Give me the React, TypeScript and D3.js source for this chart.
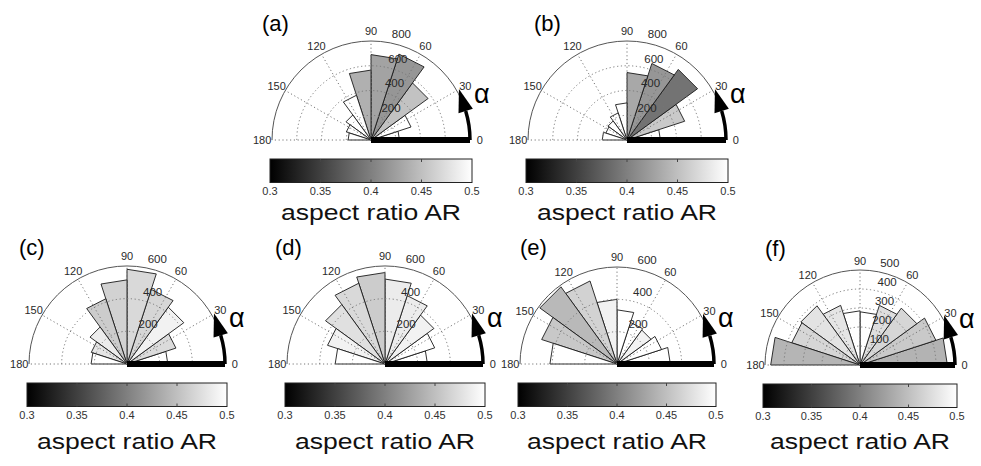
import React from 'react';
import * as d3 from 'd3';

// ---- data ----
const binStarts = [0, 18, 36, 54, 72, 90, 108, 126, 144, 162];
const binWidth = 18;
const panelLabels = ['(a)', '(b)', '(c)', '(d)', '(e)', '(f)'];

const countsA = [230, 340, 570, 730, 690, 565, 380, 250, 210, 185];
const countsB = [270, 490, 705, 650, 545, 300, 230, 190, 180, 200];
const countsC = [250, 315, 430, 480, 580, 515, 420, 280, 230, 220];
const countsD = [260, 320, 370, 440, 520, 560, 520, 450, 370, 305];
const countsE = [330, 290, 260, 270, 335, 400, 540, 590, 490, 415];
const countsF = [460, 420, 370, 330, 280, 285, 330, 385, 378, 470];

const arA = [0.5, 0.5, 0.452, 0.418, 0.428, 0.438, 0.5, 0.5, 0.5, 0.5];
const arB = [0.5, 0.458, 0.39, 0.418, 0.432, 0.5, 0.5, 0.5, 0.5, 0.5];
const arC = [0.5, 0.472, 0.49, 0.468, 0.47, 0.465, 0.46, 0.485, 0.48, 0.5];
const arD = [0.5, 0.5, 0.49, 0.485, 0.485, 0.46, 0.47, 0.476, 0.49, 0.5];
const arE = [0.5, 0.5, 0.49, 0.5, 0.5, 0.49, 0.465, 0.445, 0.457, 0.5];
const arF = [0.44, 0.458, 0.468, 0.474, 0.5, 0.5, 0.48, 0.478, 0.468, 0.442];

const ringTicksAB = [200, 400, 600, 800];
const ringTicksCDE = [200, 400, 600];
const ringTicksF = [100, 200, 300, 400, 500];
const angleTicks = [0, 30, 60, 90, 120, 150, 180];
const colorbarTicks = [0.3, 0.35, 0.4, 0.45, 0.5];
const colorbarTickLabels = ['0.3', '0.35', '0.4', '0.45', '0.5'];
const colorbarTitle = 'aspect ratio AR';
const arrowLabel = 'α';

const panelCounts = [countsA, countsB, countsC, countsD, countsE, countsF];
const panelAR = [arA, arB, arC, arD, arE, arF];
const panelRings = [ringTicksAB, ringTicksAB, ringTicksCDE, ringTicksCDE, ringTicksCDE, ringTicksF];

// ---- layout ----
const layouts = [
  { cx: 371, cy: 140, R: 99, labelDx: -109, titleY: 220, clipRight: 981 },
  { cx: 627, cy: 140, R: 99, labelDx: -93, titleY: 220, clipRight: 981 },
  { cx: 127, cy: 364, R: 98, labelDx: -108, titleY: 449, clipRight: 981 },
  { cx: 385, cy: 364, R: 98, labelDx: -110, titleY: 449, clipRight: 497 },
  { cx: 617, cy: 364, R: 97, labelDx: -97, titleY: 449, clipRight: 981 },
  { cx: 860, cy: 365, R: 95, labelDx: -95, titleY: 449, clipRight: 981 },
];

const FONT = '"Liberation Sans", Arial, sans-serif';
const grayScale = d3.scaleLinear<string>().domain([0.3, 0.5]).range(['#000000', '#ffffff']).clamp(true);
const rad = (deg: number) => (deg * Math.PI) / 180;

function Panel({ idx }: { idx: number }) {
  const L = layouts[idx];
  const counts = panelCounts[idx];
  const ars = panelAR[idx];
  const rings = panelRings[idx];
  const maxR = rings[rings.length - 1];
  const rScale = d3.scaleLinear().domain([0, maxR]).range([0, L.R]);
  const pt = (deg: number, r: number): [number, number] => [L.cx + r * Math.cos(rad(deg)), L.cy - r * Math.sin(rad(deg))];

  const lineGen = d3.line();
  const wedges = binStarts.map((s, i) => {
    const r = rScale(counts[i]);
    const d = lineGen([[L.cx, L.cy], pt(s, r), pt(s + binWidth, r)]) + 'Z';
    return <path key={i} d={d} fill={grayScale(ars[i])} stroke="#1a1a1a" strokeWidth={0.9} />;
  });

  const ringPath = (r: number) => {
    const p = d3.path();
    p.arc(L.cx, L.cy, r, Math.PI, 2 * Math.PI, false);
    return p.toString();
  };

  const cbLeft = L.cx - L.R - 2;
  const cbRight = L.cx + L.R + 2;
  const cbTop = L.cy + 19;
  const cbBot = L.cy + 42.5;
  const cbScale = d3.scaleLinear().domain([0.3, 0.5]).range([cbLeft, cbRight]);
  const gradId = `grad${idx}`;
  const clipId = `clip${idx}`;

  // arrow
  const arcEnd = 17;
  const arcP = d3.path();
  arcP.arc(L.cx, L.cy, L.R, 0, -rad(arcEnd), true);
  const B = pt(arcEnd, L.R);
  const T: [number, number] = [-Math.sin(rad(arcEnd)), -Math.cos(rad(arcEnd))];
  const N: [number, number] = [Math.cos(rad(arcEnd)), -Math.sin(rad(arcEnd))];
  const headLen = 23;
  const headHalf = 7.5;
  const head = [
    [B[0] + T[0] * headLen, B[1] + T[1] * headLen],
    [B[0] + N[0] * headHalf, B[1] + N[1] * headHalf],
    [B[0] - N[0] * headHalf, B[1] - N[1] * headHalf],
  ];

  return (
    <g>
      <defs>
        <linearGradient id={gradId} x1="0" x2="1" y1="0" y2="0">
          <stop offset="0" stopColor={grayScale(0.3)} />
          <stop offset="1" stopColor={grayScale(0.5)} />
        </linearGradient>
        <clipPath id={clipId}>
          <rect x={0} y={0} width={L.clipRight} height={466} />
        </clipPath>
      </defs>
      {/* outer circle */}
      <path d={ringPath(L.R)} fill="none" stroke="#555" strokeWidth={1} />
      {wedges}
      {/* dotted grid */}
      {rings.slice(0, -1).map((t) => (
        <path key={t} d={ringPath(rScale(t))} fill="none" stroke="#777" strokeWidth={1} strokeDasharray="1.2 2.6" />
      ))}
      {[30, 60, 90, 120, 150, 180].map((a) => {
        const e = pt(a, L.R);
        return <line key={a} x1={L.cx} y1={L.cy} x2={e[0]} y2={e[1]} stroke="#777" strokeWidth={1} strokeDasharray="1.2 2.6" />;
      })}
      {/* ring labels */}
      {rings.map((t) => {
        const r = rScale(t);
        return (
          <text key={t} x={L.cx + r * Math.cos(rad(82)) + 7} y={L.cy - r * Math.sin(rad(82)) - 3.5} fontSize={11.5} fill="#2a2a2a" fontFamily={FONT}>
            {t}
          </text>
        );
      })}
      {/* angle labels */}
      {angleTicks.map((a) => {
        const p = pt(a, L.R * 1.1);
        return (
          <text key={a} x={p[0]} y={p[1]} fontSize={11} fill="#2a2a2a" fontFamily={FONT} textAnchor="middle" dominantBaseline="central">
            {a}
          </text>
        );
      })}
      {/* alpha arrow */}
      <line x1={L.cx} y1={L.cy} x2={L.cx + L.R} y2={L.cy} stroke="#000" strokeWidth={6} />
      <path d={arcP.toString()} fill="none" stroke="#000" strokeWidth={3.5} />
      <polygon points={head.map((q) => q.join(',')).join(' ')} fill="#000" />
      <text x={L.cx + L.R + 4} y={L.cy - 37} fontSize={27} fontFamily={FONT} fill="#000">
        {arrowLabel}
      </text>
      {/* panel label */}
      <text x={L.cx + L.labelDx} y={L.cy - 109} fontSize={22} fontFamily={FONT} fill="#000">
        {panelLabels[idx]}
      </text>
      {/* colorbar */}
      <rect x={cbLeft} y={cbTop} width={cbRight - cbLeft} height={cbBot - cbTop} fill={`url(#${gradId})`} stroke="#222" strokeWidth={1} />
      {colorbarTicks.slice(1, -1).map((t) => (
        <g key={t}>
          <line x1={cbScale(t)} x2={cbScale(t)} y1={cbTop} y2={cbTop + 3} stroke="#444" strokeWidth={1} />
          <line x1={cbScale(t)} x2={cbScale(t)} y1={cbBot} y2={cbBot - 3} stroke="#444" strokeWidth={1} />
        </g>
      ))}
      <g clipPath={`url(#${clipId})`}>
        {colorbarTicks.map((t, i) => (
          <text key={t} x={cbScale(t)} y={cbBot + 12.5} fontSize={11} fill="#333" fontFamily={FONT} textAnchor="middle">
            {colorbarTickLabels[i]}
          </text>
        ))}
      </g>
      <text
        x={(cbLeft + cbRight) / 2}
        y={L.titleY}
        fontSize={22.5}
        fontFamily={FONT}
        fill="#111"
        textAnchor="middle"
        textLength={180}
        lengthAdjust="spacingAndGlyphs"
      >
        {colorbarTitle}
      </text>
    </g>
  );
}

export default function App() {
  return (
    <svg width={981} height={466} viewBox="0 0 981 466" style={{ position: 'absolute', left: 0, top: 0, background: '#fff' }}>
      <rect x={0} y={0} width={981} height={466} fill="#fff" />
      {layouts.map((_, i) => (
        <Panel key={i} idx={i} />
      ))}
    </svg>
  );
}
